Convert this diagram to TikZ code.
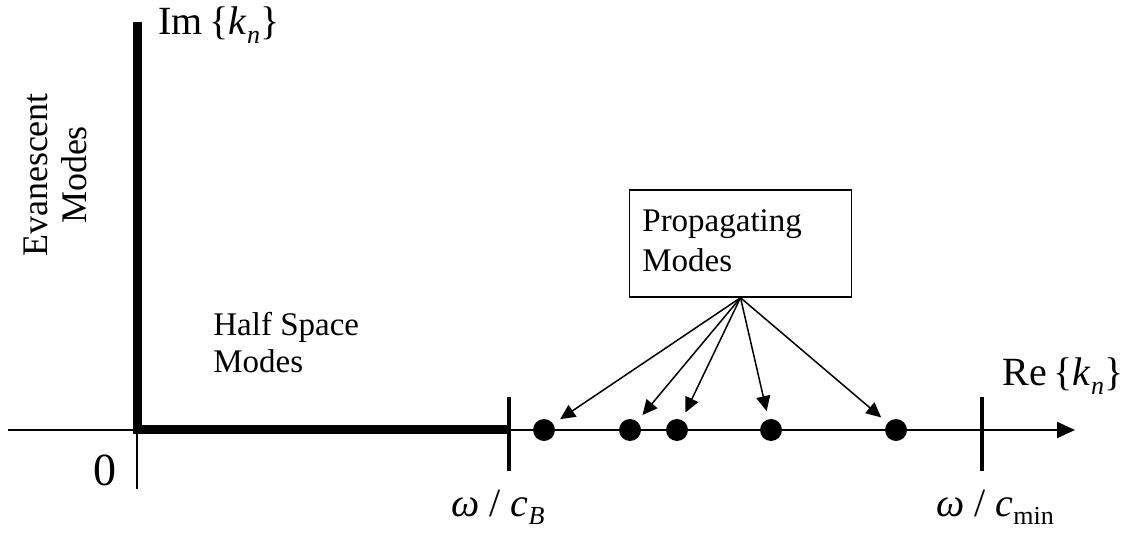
\documentclass[tikz,border=0pt]{standalone}
\usepackage{fontspec}
\setmainfont{Liberation Serif}
\usetikzlibrary{arrows.meta}
% lowered index, as in k_n and c_B
\newcommand{\lowidx}[1]{\raisebox{-0.45ex}{\fontsize{13}{13}\selectfont #1}}
\begin{document}
\begin{tikzpicture}[x=0.5pt, y=0.5pt, line cap=butt, line join=miter,
    axis/.style={line width=1pt},
    branch/.style={line width=4.5pt},
    cutoff/.style={line width=2.2pt},
    mode/.style={circle, fill=black, inner sep=0pt, minimum size=11pt},
    pointer/.style={line width=0.75pt, -{Triangle[length=7.5pt, width=7pt]}, shorten >=4pt},
    txt/.style={inner sep=0pt, font=\fontsize{16.5}{20}\selectfont},
    big/.style={inner sep=0pt, font=\fontsize{20}{24}\selectfont}]
  \useasboundingbox (0,0) rectangle (1126,541);
  % axes
  \coordinate (xl) at (8,111);
  \coordinate (xr) at (1075,111);
  \coordinate (o) at (137,111);
  \coordinate (ob) at (137,52);
  \coordinate (ytop) at (137,519);
  \draw[axis, -{Triangle[length=9pt, width=8pt]}] (xl) -- (xr);
  \draw[axis] (o) -- (ob);
  \draw[branch] (ytop) -- (o) -- (509,111) coordinate (cb);
  \draw[cutoff] (509,144) -- (509,70);
  \draw[cutoff] (982,144) -- (982,70);
  % modes on the real axis
  \node[mode] (m1) at (544,111) {};
  \node[mode] (m2) at (630,111) {};
  \node[mode] (m3) at (677,111) {};
  \node[mode] (m4) at (771,111) {};
  \node[mode] (m5) at (896,111) {};
  \node[draw, line width=0.75pt, minimum width=111pt, minimum height=53.5pt,
    inner sep=0pt] (prop) at (740.5,297.5) {};
  \node[txt, align=left, anchor=west] at (642,300) {Propagating\\Modes};
  \foreach \m in {m1,m2,m3,m4,m5}
    \draw[pointer] (prop.south) -- (\m);
  % labels
  \node[big, anchor=west] (im) at (158,516) {Im\,\{\textit{k}\lowidx{\textit{n}}\}};
  \node[big, anchor=west] (re) at (1002,165) {Re\,\{\textit{k}\lowidx{\textit{n}}\}};
  \node[big, font=\fontsize{23}{24}\selectfont] (zero) at (105,71) {0};
  \node[big] (wb) at (498,34) {\textit{ω} / \textit{c}\lowidx{\textit{B}}};
  \node[big] (wm) at (995,34) {\textit{ω} / \textit{c}\lowidx{min}};
  \node[txt, rotate=90, align=center, font=\fontsize{18}{19.5}\selectfont] (ev) at (55,366) {Evanescent\\Modes};
  \node[txt, align=left, anchor=north west, font=\fontsize{16.5}{18.5}\selectfont] (hs) at (213,229) {Half Space\\Modes};
\end{tikzpicture}
\end{document}
